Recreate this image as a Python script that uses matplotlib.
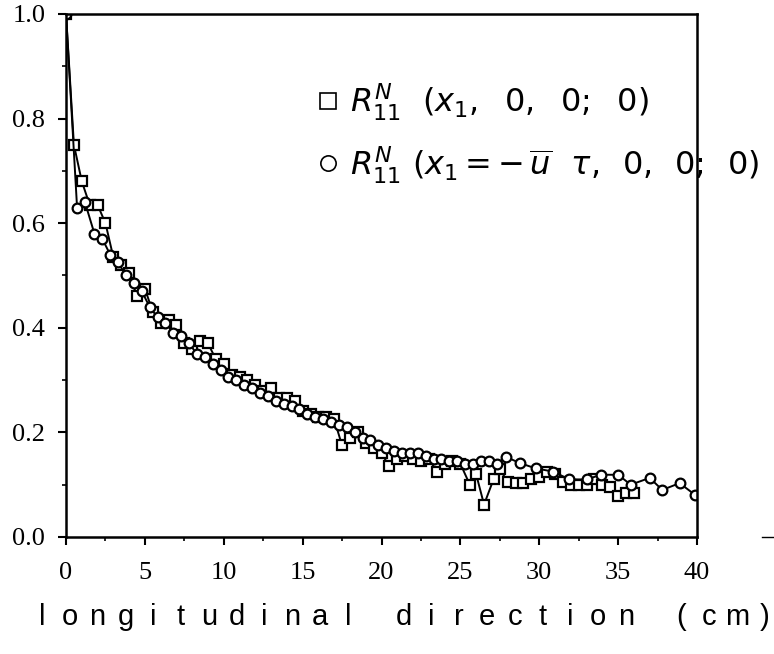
import matplotlib
matplotlib.use("Agg")
import matplotlib.pyplot as plt
from matplotlib.ticker import MultipleLocator, FormatStrFormatter
from matplotlib.lines import Line2D

# R11 at fixed time, open squares
sq_x = [0, 0.5, 1.0, 1.5, 2.0, 2.5, 3.0, 3.5, 4.0, 4.5, 5.0, 5.5, 6.0, 6.5, 7.0,
        7.5, 8.0, 8.5, 9.0, 9.5, 10.0, 10.5, 11.0, 11.5, 12.0, 12.5, 13.0, 13.5,
        14.0, 14.5, 15.0, 15.5, 16.0, 16.5, 17.0, 17.5, 18.0, 18.5, 19.0, 19.5,
        20.0, 20.5, 21.0, 21.5, 22.0, 22.5, 23.0, 23.5, 24.0, 24.5, 25.0, 25.6,
        26.0, 26.5, 27.1, 27.5, 28.0, 28.5, 29.0, 29.5, 30.0, 30.5, 31.0, 31.5,
        32.0, 32.5, 33.0, 33.5, 34.0, 34.5, 35.0, 35.5, 36.0]
sq_y = [1.0, 0.75, 0.68, 0.635, 0.635, 0.60, 0.535, 0.52, 0.505, 0.46, 0.475,
        0.43, 0.41, 0.415, 0.405, 0.37, 0.36, 0.375, 0.37, 0.34, 0.33, 0.31,
        0.305, 0.30, 0.29, 0.28, 0.285, 0.265, 0.265, 0.26, 0.24, 0.235, 0.23,
        0.23, 0.225, 0.175, 0.19, 0.20, 0.18, 0.17, 0.16, 0.135, 0.15, 0.155,
        0.15, 0.145, 0.15, 0.125, 0.14, 0.145, 0.14, 0.10, 0.12, 0.062, 0.11,
        0.13, 0.105, 0.103, 0.103, 0.11, 0.115, 0.125, 0.12, 0.105, 0.10, 0.10,
        0.10, 0.11, 0.10, 0.095, 0.078, 0.085, 0.085]

# R11 with Taylor hypothesis, open circles
ci_x = [0, 0.7, 1.2, 1.8, 2.3, 2.8, 3.3, 3.8, 4.3, 4.8, 5.3, 5.8, 6.3, 6.8, 7.3,
        7.8, 8.3, 8.8, 9.3, 9.8, 10.3, 10.8, 11.3, 11.8, 12.3, 12.8, 13.3, 13.8,
        14.3, 14.8, 15.3, 15.8, 16.3, 16.8, 17.3, 17.8, 18.3, 18.8, 19.3, 19.8,
        20.3, 20.8, 21.3, 21.8, 22.3, 22.8, 23.3, 23.8, 24.3, 24.8, 25.3, 25.8,
        26.3, 26.8, 27.3, 27.9, 28.8, 29.8, 30.9, 31.9, 33.0, 33.9, 35.0, 35.8,
        37.0, 37.8, 38.9, 39.9]
ci_y = [1.0, 0.63, 0.64, 0.58, 0.57, 0.54, 0.525, 0.50, 0.485, 0.47, 0.44,
        0.42, 0.41, 0.39, 0.385, 0.37, 0.35, 0.345, 0.33, 0.32, 0.305, 0.30,
        0.29, 0.285, 0.275, 0.27, 0.26, 0.255, 0.25, 0.245, 0.235, 0.23, 0.225,
        0.22, 0.215, 0.21, 0.20, 0.19, 0.185, 0.175, 0.17, 0.165, 0.16, 0.16,
        0.16, 0.155, 0.15, 0.15, 0.145, 0.145, 0.14, 0.14, 0.145, 0.145, 0.14,
        0.153, 0.141, 0.131, 0.125, 0.11, 0.11, 0.119, 0.119, 0.10, 0.113,
        0.09, 0.103, 0.08]

label_sq = r'$R_{11}^{N}\ \ (x_1,\ \;0,\ \;0;\ \;0)$'
label_ci = r'$R_{11}^{N}\ (x_1 = -\,\overline{u}\ \ \tau,\ \,0,\ \,0;\ \,0)$'
xlabel = 'longitudinal direction (cm)'

plt.rcParams['mathtext.fontset'] = 'dejavusans'
plt.rcParams['mathtext.default'] = 'it'

fig = plt.figure(figsize=(7.74, 6.54), dpi=100)
ax = fig.add_axes([0.0853, 0.1789, 0.8152, 0.7997])

ax.plot(sq_x, sq_y, color='black', lw=1.4, marker='s', ms=7,
        mfc='white', mec='black', mew=1.6, label=label_sq)
ax.plot(ci_x, ci_y, color='black', lw=1.4, marker='o', ms=7,
        mfc='white', mec='black', mew=1.6, label=label_ci)

ax.set_xlim(0, 40)
ax.set_ylim(0, 1.0)
ax.xaxis.set_major_locator(MultipleLocator(5))
ax.xaxis.set_minor_locator(MultipleLocator(2.5))
ax.yaxis.set_major_locator(MultipleLocator(0.2))
ax.yaxis.set_minor_locator(MultipleLocator(0.1))
ax.yaxis.set_major_formatter(FormatStrFormatter('%.1f'))

for s in ax.spines.values():
    s.set_linewidth(1.8)
ax.tick_params(which='major', direction='out', length=6, width=1.5,
               labelsize=19)
ax.tick_params(axis='x', which='major', pad=12)
ax.tick_params(axis='y', which='major', pad=9)
ax.tick_params(which='minor', direction='out', length=3, width=1.2)
for lab in ax.get_xticklabels() + ax.get_yticklabels():
    lab.set_family('Liberation Serif')

leg = ax.legend(loc='upper left', bbox_to_anchor=(0.397, 0.871), frameon=False,
                fontsize=23, handlelength=0.7, handletextpad=0.35,
                labelspacing=0.65, borderaxespad=0, borderpad=0)
for h in leg.legend_handles:
    h.set_linestyle('none')
    h.set_markeredgewidth(1.2)
    h.set_markersize(11)

# letter-spaced axis title, one character per slot
x0, step = 42 / 774, 27.8 / 774
for i, ch in enumerate(xlabel):
    fig.text(x0 + i * step, 0.057, ch, ha='center', va='center',
             fontsize=21, family='Liberation Sans')

# short stray dash at the right edge of the scan
fig.add_artist(Line2D([0.984, 1.0], [0.179, 0.179], color='black', lw=1.0,
                      transform=fig.transFigure))

fig.savefig('out.png', dpi=100)
